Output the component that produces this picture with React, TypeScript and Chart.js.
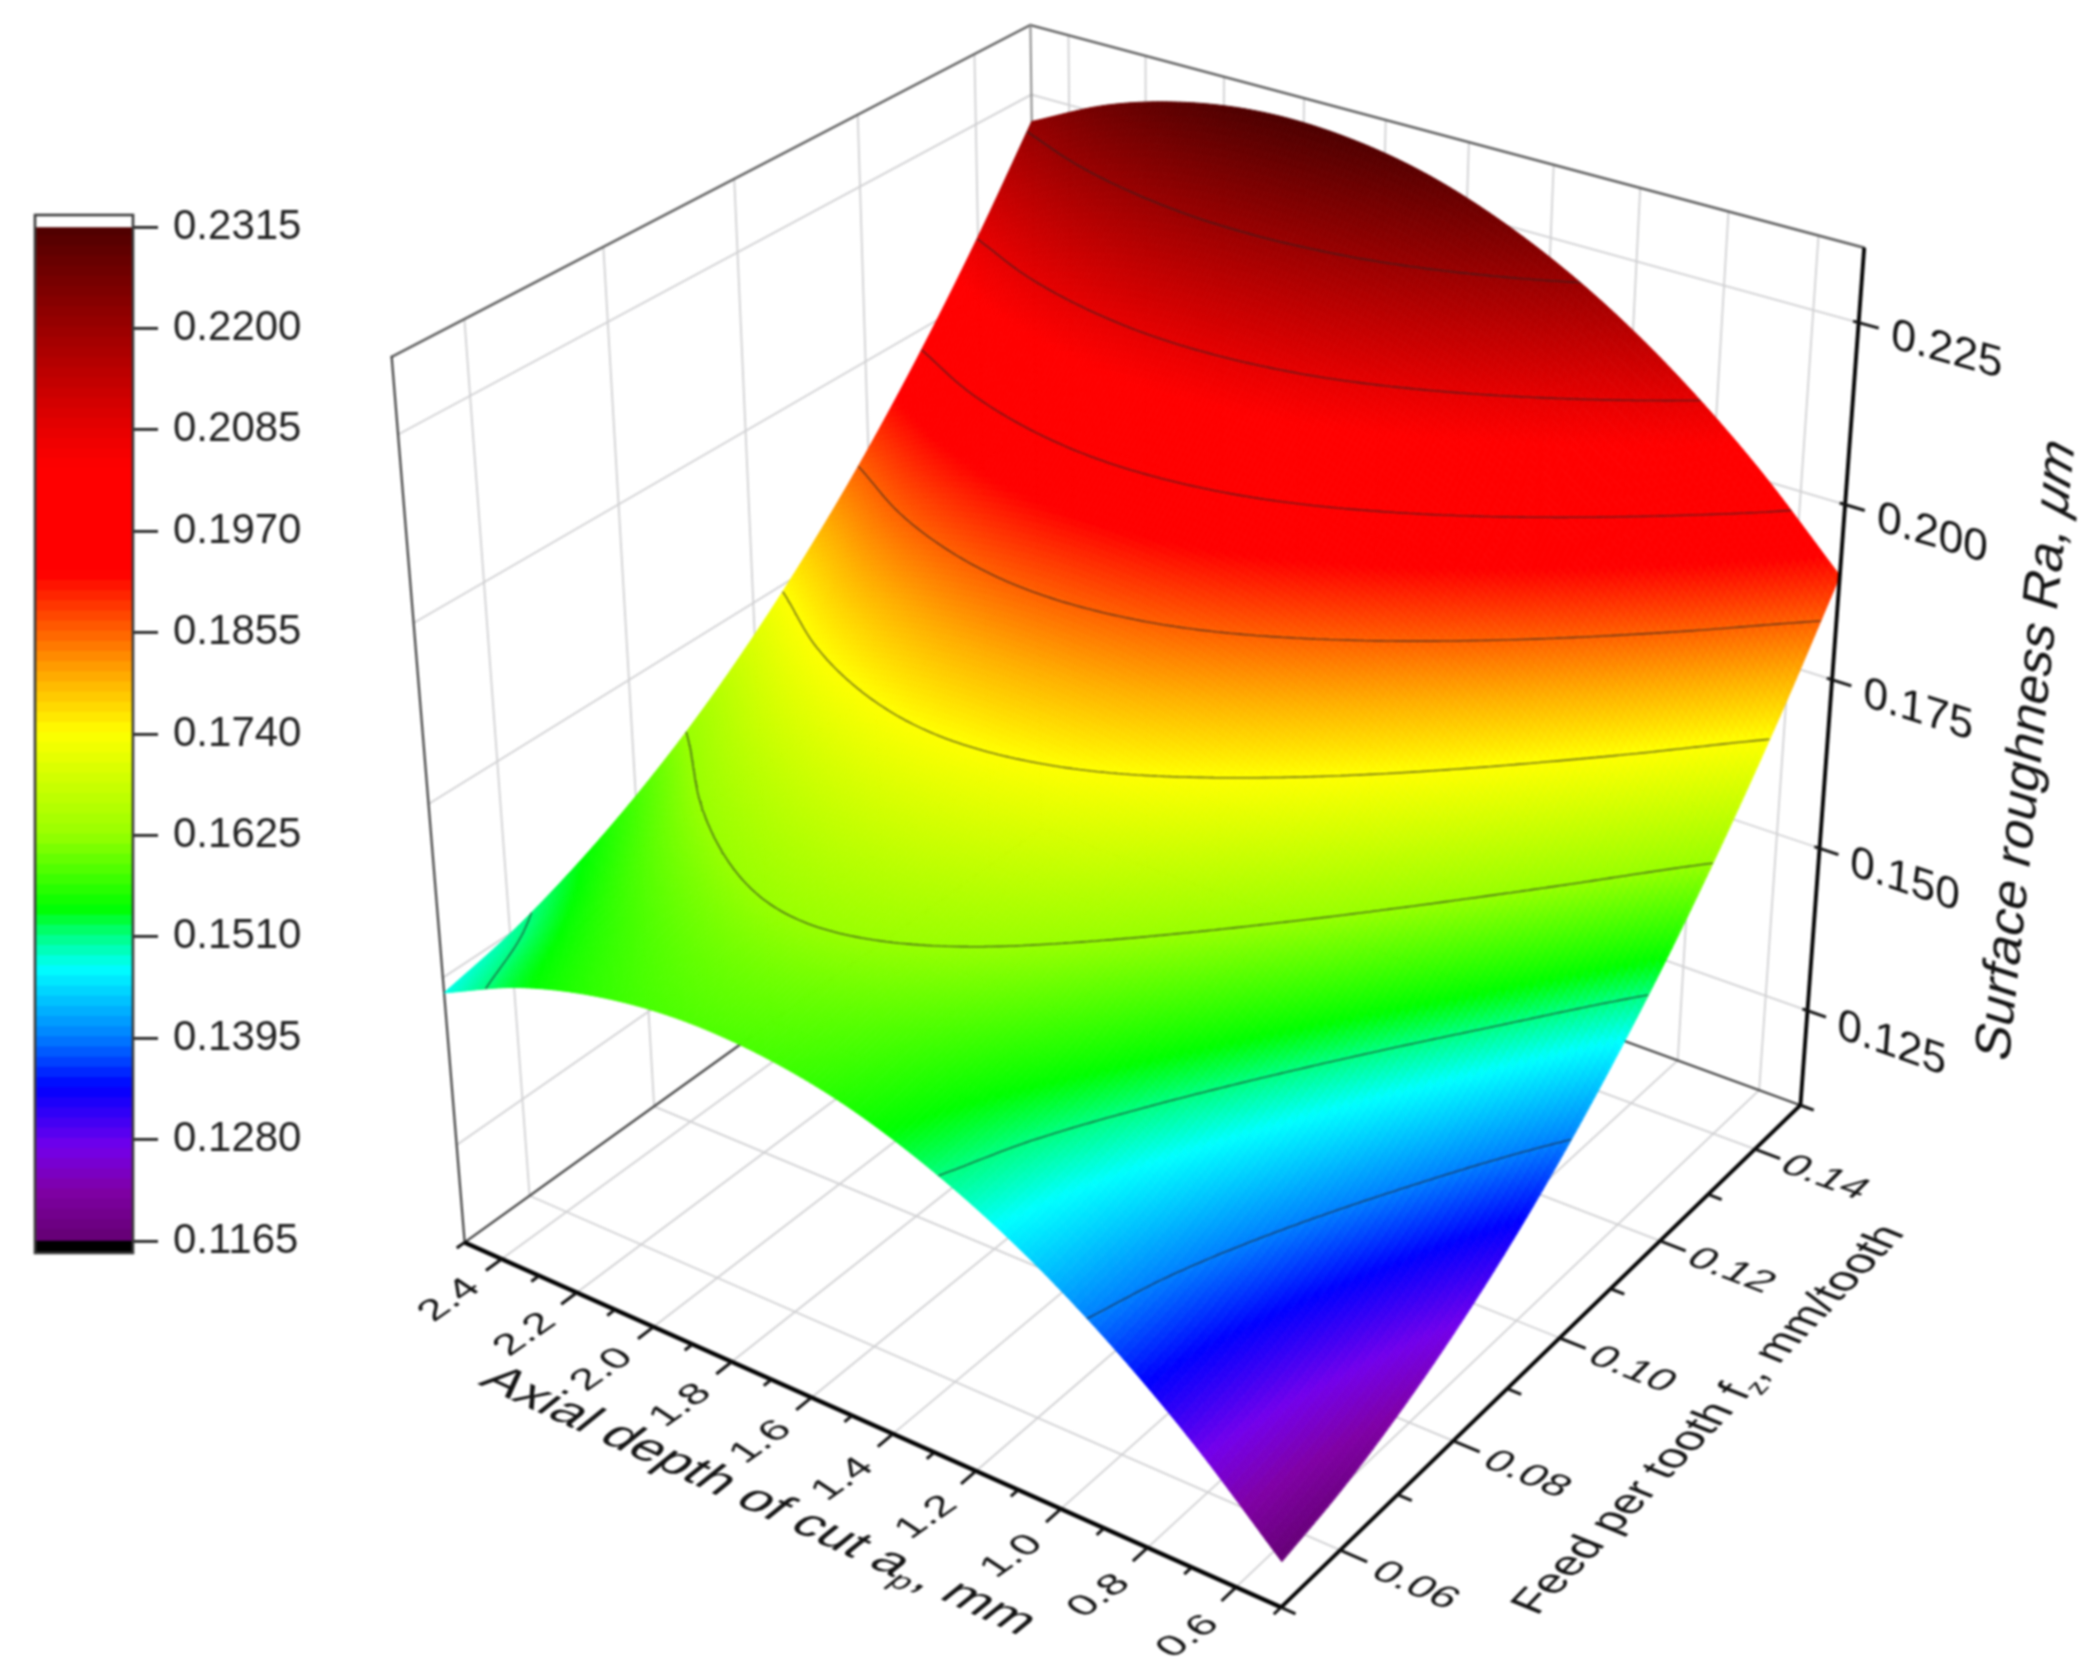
import { useEffect, useRef } from 'react'
import { Chart, registerables } from 'chart.js'

Chart.register(...registerables)

const WIDTH = 2088
const HEIGHT = 1666
const FONT = '"Liberation Sans", Arial, sans-serif'

// axis ticks
const apMajor = [0.6, 0.8, 1.0, 1.2, 1.4, 1.6, 1.8, 2.0, 2.2, 2.4]
const apMinor = [0.5, 0.7, 0.9, 1.1, 1.3, 1.5, 1.7, 1.9, 2.1, 2.3, 2.5]
const fzMajor = [0.06, 0.08, 0.10, 0.12, 0.14]
const fzMinor = [0.05, 0.07, 0.09, 0.11, 0.13, 0.15]
const raTicks = [0.125, 0.150, 0.175, 0.200, 0.225]
const barTicks = [0.1165, 0.1280, 0.1395, 0.1510, 0.1625, 0.1740, 0.1855, 0.1970, 0.2085, 0.2200, 0.2315]

// contour lines sit on the colour bar levels
const contourLevels = [0.1395, 0.1510, 0.1625, 0.1740, 0.1855, 0.1970, 0.2085, 0.2200]

// Ra: one row per fz, columns follow apGrid
const apGrid = [0.5, 0.7, 0.9, 1.1, 1.3, 1.5, 1.7, 1.9, 2.1, 2.3, 2.5]
const fzGrid = [0.05, 0.06, 0.07, 0.08, 0.09, 0.10, 0.11, 0.12, 0.13, 0.14, 0.15]
const raGrid = [
  [0.1167, 0.1283, 0.1380, 0.1458, 0.1517, 0.1558, 0.1579, 0.1582, 0.1566, 0.1532, 0.1478],
  [0.1189, 0.1305, 0.1402, 0.1480, 0.1539, 0.1580, 0.1601, 0.1604, 0.1588, 0.1554, 0.1500],
  [0.1223, 0.1339, 0.1436, 0.1514, 0.1573, 0.1614, 0.1635, 0.1638, 0.1622, 0.1588, 0.1534],
  [0.1268, 0.1384, 0.1481, 0.1559, 0.1618, 0.1659, 0.1680, 0.1683, 0.1667, 0.1633, 0.1579],
  [0.1324, 0.1440, 0.1537, 0.1615, 0.1674, 0.1715, 0.1736, 0.1739, 0.1723, 0.1689, 0.1635],
  [0.1392, 0.1508, 0.1605, 0.1683, 0.1742, 0.1783, 0.1804, 0.1807, 0.1791, 0.1757, 0.1703],
  [0.1471, 0.1587, 0.1684, 0.1762, 0.1821, 0.1862, 0.1883, 0.1886, 0.1870, 0.1836, 0.1782],
  [0.1561, 0.1677, 0.1774, 0.1852, 0.1911, 0.1952, 0.1973, 0.1976, 0.1960, 0.1926, 0.1872],
  [0.1663, 0.1779, 0.1876, 0.1954, 0.2013, 0.2054, 0.2075, 0.2078, 0.2062, 0.2028, 0.1974],
  [0.1776, 0.1892, 0.1989, 0.2067, 0.2126, 0.2167, 0.2188, 0.2191, 0.2175, 0.2141, 0.2087],
  [0.1900, 0.2016, 0.2113, 0.2191, 0.2250, 0.2291, 0.2312, 0.2315, 0.2299, 0.2265, 0.2211],
]

// colour map
const mapValues = [0.1165, 0.122, 0.127, 0.1337, 0.1395, 0.1472, 0.151, 0.154, 0.1625, 0.174, 0.18, 0.1855, 0.192, 0.204, 0.2085, 0.22, 0.2315]
const mapColors = [
  [100, 0, 115], [128, 0, 165], [115, 0, 235], [0, 0, 255], [0, 128, 255], [0, 255, 255], [0, 255, 128], [0, 255, 0],
  [153, 255, 0], [255, 255, 0], [255, 176, 0], [255, 96, 0], [255, 0, 0], [255, 0, 0], [230, 0, 0], [153, 0, 0], [77, 0, 0],
]

const AP_MIN = 0.5
const AP_MAX = 2.5
const FZ_MIN = 0.05
const FZ_MAX = 0.15
const RA_MIN = 0.11
const RA_MAX = 0.235

const normA = (ap: number) => (ap - AP_MIN) / (AP_MAX - AP_MIN)
const normF = (fz: number) => (fz - FZ_MIN) / (FZ_MAX - FZ_MIN)
const normH = (ra: number) => (ra - RA_MIN) / (RA_MAX - RA_MIN)

type Pt = [number, number]

// camera of the box: normalised axes to picture pixels
const SCALE = WIDTH / 1568
function project(a: number, f: number, h: number): Pt {
  const w = 1 + 0.1073 * a + 0.1569 * f - 0.105 * h
  const x = (962 - 575.6 * a + 602.2 * f - 91.6 * h) / w
  const y = (1207 - 173.9 * a - 246.8 * f - 764.5 * h) / w
  return [x * SCALE, y * SCALE]
}

function colorFor(v: number) {
  if (v <= mapValues[0]) return `rgb(${mapColors[0].join(',')})`
  for (let i = 1; i < mapValues.length; i++) {
    if (v <= mapValues[i]) {
      const t = (v - mapValues[i - 1]) / (mapValues[i] - mapValues[i - 1])
      const c = mapColors[i].map((m, k) => Math.round(mapColors[i - 1][k] + (m - mapColors[i - 1][k]) * t))
      return `rgb(${c.join(',')})`
    }
  }
  return `rgb(${mapColors[mapColors.length - 1].join(',')})`
}

function catmull(p0: number, p1: number, p2: number, p3: number, t: number) {
  return 0.5 * (2 * p1 + (p2 - p0) * t + (2 * p0 - 5 * p1 + 4 * p2 - p3) * t * t + (3 * p1 - p0 - 3 * p2 + p3) * t * t * t)
}

function along(row: number[], pos: number) {
  const n = row.length
  const i = Math.min(Math.floor(pos), n - 2)
  const t = pos - i
  const p0 = i > 0 ? row[i - 1] : 2 * row[0] - row[1]
  const p3 = i + 2 < n ? row[i + 2] : 2 * row[n - 1] - row[n - 2]
  return catmull(p0, row[i], row[i + 1], p3, t)
}

// smooth shading between the read values
function surfaceAt(a: number, f: number) {
  const col = a * (apGrid.length - 1)
  const rowPos = f * (fzGrid.length - 1)
  return along(raGrid.map((r) => along(r, col)), rowPos)
}

const STEPS = 170
const mesh: number[][] = []
for (let j = 0; j <= STEPS; j++) {
  const row: number[] = []
  for (let i = 0; i <= STEPS; i++) row.push(surfaceAt(i / STEPS, j / STEPS))
  mesh.push(row)
}

function contourSegments(level: number) {
  const out: { x: number; y: number }[] = []
  const put = (a: number, f: number) => {
    const p = project(a, f, normH(level))
    return { x: p[0], y: p[1] }
  }
  for (let j = 0; j < STEPS; j++) {
    for (let i = 0; i < STEPS; i++) {
      const corners = [
        [i, j, mesh[j][i]], [i + 1, j, mesh[j][i + 1]],
        [i + 1, j + 1, mesh[j + 1][i + 1]], [i, j + 1, mesh[j + 1][i]],
      ]
      const hits: { x: number; y: number }[] = []
      for (let k = 0; k < 4; k++) {
        const c0 = corners[k]
        const c1 = corners[(k + 1) % 4]
        if ((c0[2] - level) * (c1[2] - level) < 0) {
          const t = (level - c0[2]) / (c1[2] - c0[2])
          hits.push(put((c0[0] + (c1[0] - c0[0]) * t) / STEPS, (c0[1] + (c1[1] - c0[1]) * t) / STEPS))
        }
      }
      if (hits.length === 2) out.push(hits[0], hits[1], { x: NaN, y: NaN })
    }
  }
  return out
}

function unit(p: Pt, q: Pt): Pt {
  const dx = q[0] - p[0]
  const dy = q[1] - p[1]
  const len = Math.hypot(dx, dy)
  return [dx / len, dy / len]
}

type Run = { t: string; italic?: boolean; sub?: boolean }

// text lying in one of the box planes: baseline along dir, letter tops along up
function planeText(
  ctx: CanvasRenderingContext2D, runs: Run[], at: Pt, dir: Pt, up: Pt,
  emU: number, emV: number, align: 'left' | 'center', middle = false,
) {
  const k = 1 / 100
  const fontOf = (r: Run) => `${r.italic ? 'italic ' : ''}${r.sub ? 62 : 100}px ${FONT}`
  ctx.save()
  ctx.transform(dir[0] * emU * k, dir[1] * emU * k, -up[0] * emV * k, -up[1] * emV * k, at[0], at[1])
  ctx.fillStyle = '#141414'
  ctx.textAlign = 'left'
  ctx.textBaseline = 'alphabetic'
  let total = 0
  runs.forEach((r) => {
    ctx.font = fontOf(r)
    total += ctx.measureText(r.t).width
  })
  let cx = align === 'center' ? -total / 2 : 0
  const cy = middle ? 36 : 0
  runs.forEach((r) => {
    ctx.font = fontOf(r)
    ctx.fillText(r.t, cx, cy + (r.sub ? 20 : 0))
    cx += ctx.measureText(r.t).width
  })
  ctx.restore()
}

function line3d(ctx: CanvasRenderingContext2D, chart: any, p: number[], q: number[], color: string, width: number) {
  const sx = chart.scales.x
  const sy = chart.scales.y
  const a = project(p[0], p[1], p[2])
  const b = project(q[0], q[1], q[2])
  ctx.strokeStyle = color
  ctx.lineWidth = width
  ctx.beginPath()
  ctx.moveTo(sx.getPixelForValue(a[0]), sy.getPixelForValue(a[1]))
  ctx.lineTo(sx.getPixelForValue(b[0]), sy.getPixelForValue(b[1]))
  ctx.stroke()
}

const GRID = '#d0d0d2'
const FRAME = '#5c5c5c'

const boxPlugin = {
  id: 'box3d',
  beforeDatasetsDraw(chart: any) {
    const ctx = chart.ctx
    const sx = chart.scales.x
    const sy = chart.scales.y
    ctx.save()
    ctx.lineCap = 'round'

    // walls and floor grid
    fzMajor.forEach((v) => {
      const f = normF(v)
      line3d(ctx, chart, [1, f, 0], [1, f, 1], GRID, 1.8)
      line3d(ctx, chart, [0, f, 0], [1, f, 0], GRID, 1.8)
    })
    apMajor.forEach((v) => {
      const a = normA(v)
      line3d(ctx, chart, [a, 1, 0], [a, 1, 1], GRID, 1.8)
      line3d(ctx, chart, [a, 0, 0], [a, 1, 0], GRID, 1.8)
    })
    raTicks.forEach((v) => {
      const h = normH(v)
      line3d(ctx, chart, [1, 0, h], [1, 1, h], GRID, 1.8)
      line3d(ctx, chart, [1, 1, h], [0, 1, h], GRID, 1.8)
    })

    // back edges of the box
    line3d(ctx, chart, [1, 0, 1], [1, 1, 1], FRAME, 2.4)
    line3d(ctx, chart, [1, 1, 1], [0, 1, 1], FRAME, 2.4)
    line3d(ctx, chart, [1, 1, 0], [1, 1, 1], '#8a8a8a', 2)
    line3d(ctx, chart, [1, 0, 0], [1, 0, 1], '#3f3f3f', 2.2)
    line3d(ctx, chart, [1, 0, 0], [1, 1, 0], '#3f3f3f', 2.2)
    line3d(ctx, chart, [0, 1, 0], [1, 1, 0], '#3f3f3f', 2.2)

    // surface, far cells first
    for (let j = STEPS - 1; j >= 0; j--) {
      for (let i = STEPS - 1; i >= 0; i--) {
        const v = (mesh[j][i] + mesh[j][i + 1] + mesh[j + 1][i] + mesh[j + 1][i + 1]) / 4
        const p = [
          project(i / STEPS, j / STEPS, normH(mesh[j][i])),
          project((i + 1) / STEPS, j / STEPS, normH(mesh[j][i + 1])),
          project((i + 1) / STEPS, (j + 1) / STEPS, normH(mesh[j + 1][i + 1])),
          project(i / STEPS, (j + 1) / STEPS, normH(mesh[j + 1][i])),
        ]
        const c = colorFor(v)
        ctx.fillStyle = c
        ctx.strokeStyle = c
        ctx.lineWidth = 1
        ctx.beginPath()
        p.forEach((q, n) => {
          const px = sx.getPixelForValue(q[0])
          const py = sy.getPixelForValue(q[1])
          if (n === 0) ctx.moveTo(px, py)
          else ctx.lineTo(px, py)
        })
        ctx.closePath()
        ctx.fill()
        ctx.stroke()
      }
    }
    ctx.restore()
  },
  afterDatasetsDraw(chart: any) {
    const ctx = chart.ctx
    ctx.save()
    ctx.lineCap = 'butt'

    // front axes
    line3d(ctx, chart, [1, 0, 0], [0, 0, 0], '#000', 4.4)
    line3d(ctx, chart, [0, 0, 0], [0, 1, 0], '#000', 3.8)
    line3d(ctx, chart, [0, 1, 0], [0, 1, 1], '#000', 3.8)

    apMajor.forEach((v) => line3d(ctx, chart, [normA(v), 0, 0], [normA(v), -0.024, 0], '#111', 3))
    apMinor.forEach((v) => line3d(ctx, chart, [normA(v), 0, 0], [normA(v), -0.012, 0], '#111', 3))
    fzMajor.forEach((v) => line3d(ctx, chart, [0, normF(v), 0], [-0.03, normF(v), 0], '#111', 3))
    fzMinor.forEach((v) => line3d(ctx, chart, [0, normF(v), 0], [-0.016, normF(v), 0], '#111', 3))
    raTicks.forEach((v) => line3d(ctx, chart, [0.006, 1, normH(v)], [-0.022, 1, normH(v)], '#111', 3))

    // tick labels
    apMajor.forEach((v) => {
      planeText(ctx, [{ t: v.toFixed(1) }], project(normA(v), -0.082, 0), [0.82, -0.57], [-0.83, -0.55], 43, 36, 'center', true)
    })
    fzMajor.forEach((v) => {
      const f = normF(v)
      const dir = unit(project(0, f, 0), project(-0.1, f, 0))
      const up = unit(project(-0.085, f - 0.05, 0), project(-0.085, f + 0.05, 0))
      planeText(ctx, [{ t: v.toFixed(2) }], project(-0.085, f, 0), dir, up, 44, 36, 'center', true)
    })
    raTicks.forEach((v) => {
      const h = normH(v)
      const dir = unit(project(0, 1, h), project(-0.1, 1, h))
      const up = unit(project(-0.036, 1, h - 0.05), project(-0.036, 1, h + 0.05))
      planeText(ctx, [{ t: v.toFixed(3) }], project(-0.036, 1, h), dir, up, 46, 44, 'left', true)
    })

    // axis titles
    planeText(
      ctx,
      [{ t: 'Axial depth of cut a' }, { t: 'p', sub: true }, { t: ', mm' }],
      project(0.492, -0.17, 0),
      unit(project(0.6, -0.17, 0), project(0.4, -0.17, 0)),
      [0.78, -0.63],
      54, 48, 'center',
    )
    planeText(
      ctx,
      [{ t: 'Feed per tooth f' }, { t: 'z', sub: true }, { t: ', mm/tooth' }],
      project(-0.2, 0.47, 0),
      unit(project(-0.2, 0.42, 0), project(-0.2, 0.52, 0)),
      unit(project(-0.25, 0.47, 0), project(-0.15, 0.47, 0)),
      44, 46, 'center',
    )
    planeText(
      ctx,
      [{ t: 'Surface roughness Ra, ' }, { t: 'μm', italic: true }],
      project(-0.235, 1, 0.51),
      [0.106, -0.994],
      unit(project(-0.25, 1, 0.51), project(-0.15, 1, 0.51)),
      52.3, 52, 'center',
    )
    ctx.restore()
  },
}

const framePlugin = {
  id: 'barFrame',
  afterDatasetsDraw(chart: any) {
    const { ctx, chartArea } = chart
    ctx.save()
    ctx.strokeStyle = '#3a3a3a'
    ctx.lineWidth = 2.6
    ctx.strokeRect(chartArea.left, chartArea.top, chartArea.right - chartArea.left, chartArea.bottom - chartArea.top)
    ctx.restore()
  },
}

export default function App() {
  const mainRef = useRef<HTMLCanvasElement>(null)
  const barRef = useRef<HTMLCanvasElement>(null)

  useEffect(() => {
    if (!mainRef.current || !barRef.current) return

    const surfacePoints: { x: number; y: number }[] = []
    raGrid.forEach((row, j) => {
      row.forEach((ra, i) => {
        const p = project(normA(apGrid[i]), normF(fzGrid[j]), normH(ra))
        surfacePoints.push({ x: p[0], y: p[1] })
      })
    })

    const main = new Chart(mainRef.current, {
      type: 'scatter',
      data: {
        datasets: [
          ...contourLevels.map((level) => ({
            label: level.toFixed(4),
            data: contourSegments(level),
            showLine: true,
            spanGaps: false,
            borderColor: 'rgba(35,35,35,0.62)',
            borderWidth: 1.6,
            pointRadius: 0,
          })),
          { label: 'Ra', data: surfacePoints, showLine: false, pointRadius: 0 },
        ],
      },
      options: {
        responsive: false,
        devicePixelRatio: 1,
        animation: false,
        events: [],
        layout: { padding: 0 },
        plugins: { legend: { display: false }, tooltip: { enabled: false } },
        scales: {
          x: { type: 'linear', min: 0, max: WIDTH, display: false },
          y: { type: 'linear', min: 0, max: HEIGHT, reverse: true, display: false },
        },
      },
      plugins: [boxPlugin],
    } as any)

    // colour bar: thin floating bars, white above the range and black below it
    const binSize = 0.00115
    const low = barTicks[0]
    const high = barTicks[barTicks.length - 1]
    const over = 0.00136
    const bins: any[] = [
      { data: [[high, high + over]], backgroundColor: '#ffffff' },
      { data: [[low - over, low]], backgroundColor: '#000000' },
    ]
    for (let v = low; v < high - binSize / 2; v += binSize) {
      bins.push({ data: [[v, v + binSize * 1.15]], backgroundColor: colorFor(v + binSize / 2) })
    }

    const bar = new Chart(barRef.current, {
      type: 'bar',
      data: {
        labels: [''],
        datasets: bins.map((b) => ({ ...b, grouped: false, barPercentage: 1, categoryPercentage: 1, borderWidth: 0 })),
      },
      options: {
        responsive: false,
        devicePixelRatio: 1,
        animation: false,
        events: [],
        layout: { padding: { left: 35, right: 7, top: 215, bottom: 47 } },
        plugins: { legend: { display: false }, tooltip: { enabled: false } },
        scales: {
          x: { display: false },
          y: {
            position: 'right',
            min: low - over,
            max: high + over,
            afterBuildTicks: (scale: any) => {
              scale.ticks = barTicks.map((value) => ({ value }))
            },
            afterFit: (scale: any) => {
              scale.width = 170
            },
            ticks: {
              autoSkip: false,
              padding: 15,
              color: '#222',
              font: { family: FONT, size: 42 },
              callback: (v: any) => Number(v).toFixed(4),
            },
            grid: { drawOnChartArea: false, tickLength: 25, color: '#222', lineWidth: 2.8 },
            border: { display: false },
          },
        },
      },
      plugins: [framePlugin],
    } as any)

    return () => {
      main.destroy()
      bar.destroy()
    }
  }, [])

  // the reference is a soft, upscaled scan
  const soft = 'blur(0.8px)'

  return (
    <div style={{ position: 'absolute', left: 0, top: 0, width: WIDTH, height: HEIGHT, background: '#fff' }}>
      <canvas ref={mainRef} width={WIDTH} height={HEIGHT} style={{ position: 'absolute', left: 0, top: 0, filter: soft }} />
      <canvas ref={barRef} width={310} height={1300} style={{ position: 'absolute', left: 0, top: 0, filter: soft }} />
    </div>
  )
}
